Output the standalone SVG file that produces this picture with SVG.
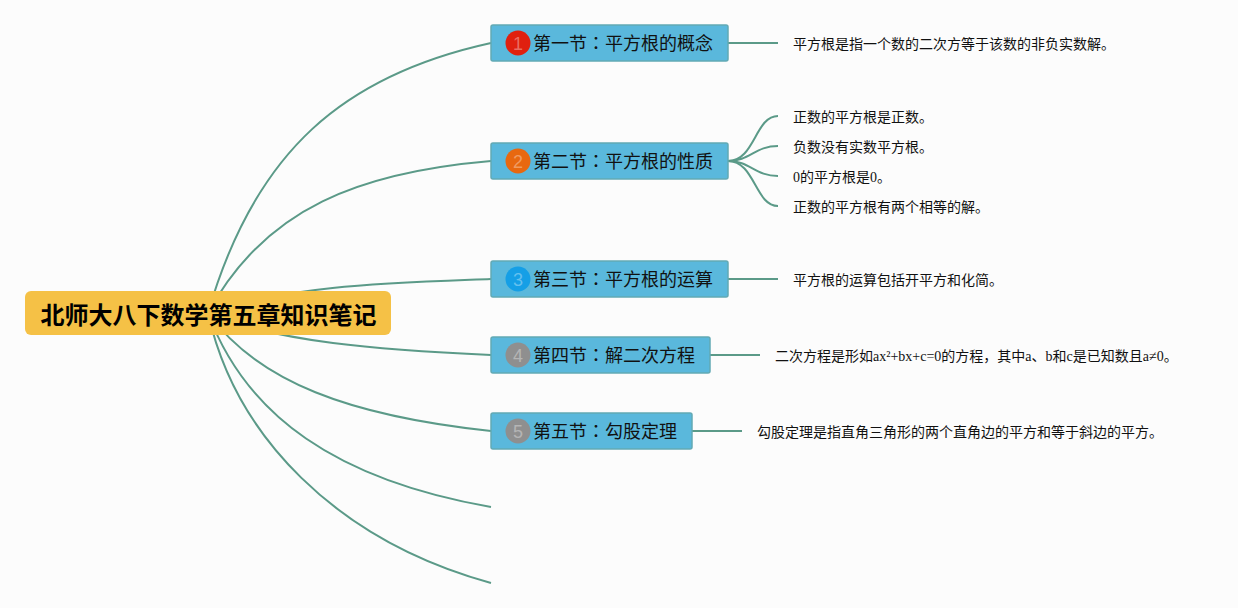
<svg xmlns="http://www.w3.org/2000/svg" width="1238" height="608" viewBox="0 0 1238 608">
<style>
text{font-family:"Liberation Serif","Noto Sans CJK SC",serif;fill:#111}
.l{font-size:14px}
.t{font-size:18px;font-family:"Noto Sans CJK SC",sans-serif}
.c{font-family:"Noto Sans CJK JP",sans-serif}
.n{font-size:18px;font-family:"Liberation Sans",sans-serif;text-anchor:middle;fill-opacity:.35;fill:#fff}
.b{fill:#5ab8dc;stroke:#62a9b4;stroke-width:1.5}
#edges path{fill:none;stroke:#5b9a88;stroke-width:2}
</style>
<rect width="1238" height="608" fill="#fcfcfc"/>
<g id="edges">
<path d="M208 313C255 150 345 75 491 43"/>
<path d="M208 313C265 207 362 172 491 161"/>
<path d="M208 313C290 285 390 283 491 279"/>
<path d="M208 313C275 342 380 350 491 355"/>
<path d="M208 313C258 382 350 416 491 431"/>
<path d="M208 313C246 416 337 480 491 507"/>
<path d="M208 313C235 435 335 540 491 583"/>
<path d="M728 43H778"/>
<path d="M728 161C755 161 755 116 778 116"/>
<path d="M728 161C750 161 755 146 778 146"/>
<path d="M728 161C750 161 755 176 778 176"/>
<path d="M728 161C755 161 755 206 778 206"/>
<path d="M728 279H778"/>
<path d="M710 355H760"/>
<path d="M692 431H742"/>
</g>
<g id="root"><rect x="25" y="291" width="366" height="44" rx="6" fill="#f5c146"/>
<text x="40.500" y="324" font-size="24" font-weight="700" style="font-family:'Noto Sans CJK SC',sans-serif;fill:#000">北师大八下数学第五章知识笔记</text></g>
<g id="t1"><rect class="b" x="491" y="25" width="237" height="36" rx="2"/><circle cx="518" cy="43" r="12.500" fill="#e0200f"/><text class="n" x="518" y="49.500">1</text><text class="t" x="533" y="50">第一节<tspan class="c">：</tspan>平方根的概念</text></g>
<g id="t2"><rect class="b" x="491" y="143" width="237" height="36" rx="2"/><circle cx="518" cy="161" r="12.500" fill="#e8680f"/><text class="n" x="518" y="167.500">2</text><text class="t" x="533" y="168">第二节<tspan class="c">：</tspan>平方根的性质</text></g>
<g id="t3"><rect class="b" x="491" y="261" width="237" height="36" rx="2"/><circle cx="518" cy="279" r="12.500" fill="#159fe6"/><text class="n" x="518" y="285.500">3</text><text class="t" x="533" y="286">第三节<tspan class="c">：</tspan>平方根的运算</text></g>
<g id="t4"><rect class="b" x="491" y="337" width="219" height="36" rx="2"/><circle cx="518" cy="355" r="12.500" fill="#8f8f8f"/><text class="n" x="518" y="361.500">4</text><text class="t" x="533" y="362">第四节<tspan class="c">：</tspan>解二次方程</text></g>
<g id="t5"><rect class="b" x="491" y="413" width="201" height="36" rx="2"/><circle cx="518" cy="431" r="12.500" fill="#8f8f8f"/><text class="n" x="518" y="437.500">5</text><text class="t" x="533" y="438">第五节<tspan class="c">：</tspan>勾股定理</text></g>
<g id="l1"><text class="l" x="793" y="49">平方根是指一个数的二次方等于该数的非负实数解。</text></g>
<g id="l2"><text class="l" x="793" y="122">正数的平方根是正数。</text></g>
<g id="l3"><text class="l" x="793" y="152">负数没有实数平方根。</text></g>
<g id="l4"><text class="l" x="793" y="182">0的平方根是0。</text></g>
<g id="l5"><text class="l" x="793" y="212">正数的平方根有两个相等的解。</text></g>
<g id="l6"><text class="l" x="793" y="285">平方根的运算包括开平方和化简。</text></g>
<g id="l7"><text class="l" x="775" y="361">二次方程是形如ax²+bx+c=0的方程，其中a、b和c是已知数且a≠0。</text></g>
<g id="l8"><text class="l" x="757" y="437">勾股定理是指直角三角形的两个直角边的平方和等于斜边的平方。</text></g>
</svg>
